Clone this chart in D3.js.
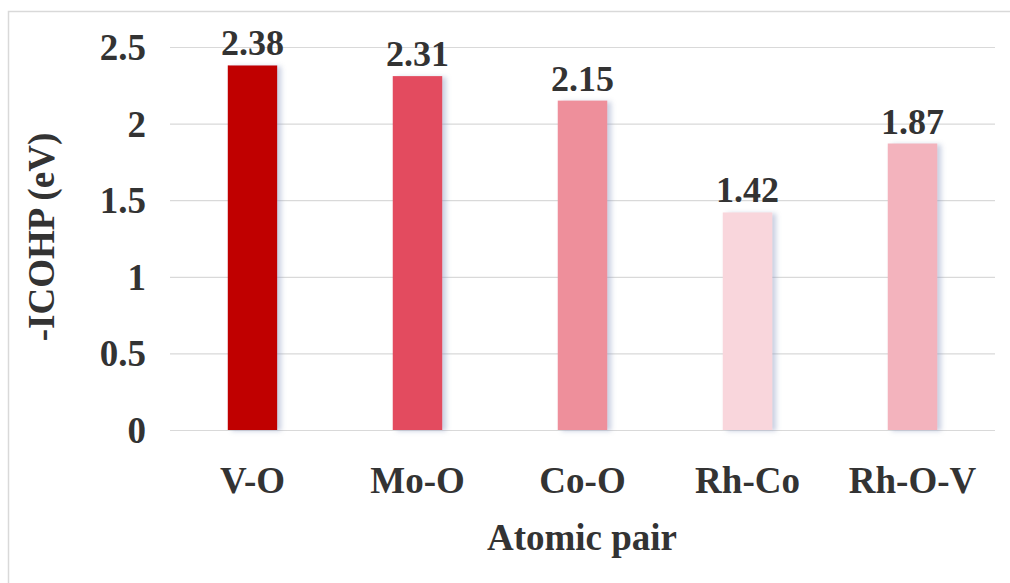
<!DOCTYPE html>
<html>
<head>
<meta charset="utf-8">
<script src="https://cdn.jsdelivr.net/npm/d3@7"></script>
<style>
  html, body { margin: 0; padding: 0; background: #fff; }
  svg { display: block; }
</style>
</head>
<body>
<script>
// Integrated COHP per atomic pair
const categories = ["V-O", "Mo-O", "Co-O", "Rh-Co", "Rh-O-V"];
const values = [2.38, 2.31, 2.15, 1.42, 1.87];
const barColors = ["#C00000", "#E34B5E", "#EE8F9B", "#F9D6DC", "#F3B3BD"];
const yTicks = [0, 0.5, 1, 1.5, 2, 2.5];
const yTickLabels = ["0", "0.5", "1", "1.5", "2", "2.5"];

const FONT = "'Liberation Serif', Tinos, 'Times New Roman', Times, 'DejaVu Serif', serif";
const W = 1010, H = 583;
const svg = d3.select("body").append("svg").attr("width", W).attr("height", H)
  .style("font-family", FONT);

// soft bluish shadow cast to the right of each bar
const defs = svg.append("defs");
const f = defs.append("filter").attr("id", "barShadow")
  .attr("x", "-20%").attr("y", "-5%").attr("width", "150%").attr("height", "110%");
f.append("feDropShadow").attr("dx", 4).attr("dy", 1).attr("stdDeviation", 2.5)
  .attr("flood-color", "#8a98c0").attr("flood-opacity", 0.45);

// outer frame
svg.append("path")
  .attr("d", `M8.5,${H} V11.5 H${W}`)
  .attr("fill", "none").attr("stroke", "#d9d9d9").attr("stroke-width", 1.5);

const x = d3.scaleBand().domain(categories).range([170, 995]).paddingInner(0.7).paddingOuter(0.35);
const y = d3.scaleLinear().domain([0, 2.5]).range([430, 47]);

function styleText(sel, size) {
  sel.style("font-family", FONT).style("font-weight", "bold")
    .style("font-size", size + "px").attr("fill", "#333");
}

// gridlines
svg.append("g").selectAll("line").data(yTicks).join("line")
  .attr("x1", 170).attr("x2", 995)
  .attr("y1", d => y(d) + 0.5).attr("y2", d => y(d) + 0.5)
  .attr("stroke", "#d9d9d9").attr("stroke-width", 1.2);

// y axis tick labels
const yAxis = d3.axisLeft(y).tickValues(yTicks)
  .tickFormat((d, i) => yTickLabels[i]).tickSize(0).tickPadding(0);
const gy = svg.append("g").attr("transform", "translate(146,0)").call(yAxis)
  .attr("font-family", null).attr("font-size", null);
gy.select(".domain").remove();
gy.selectAll("text").attr("dy", "0.34em").call(styleText, 37);

// bars
svg.append("g").selectAll("rect").data(values).join("rect")
  .attr("x", (d, i) => x(categories[i]))
  .attr("y", d => y(d))
  .attr("width", x.bandwidth())
  .attr("height", d => y(0) - y(d))
  .attr("fill", (d, i) => barColors[i])
  .attr("filter", "url(#barShadow)");

// value labels
svg.append("g").selectAll("text").data(values).join("text")
  .attr("x", (d, i) => x(categories[i]) + x.bandwidth() / 2)
  .attr("y", d => y(d) - 10)
  .attr("text-anchor", "middle")
  .text(d => d.toFixed(2))
  .call(styleText, 36);

// category axis labels
const xAxis = d3.axisBottom(x).tickSize(0).tickPadding(0);
const gx = svg.append("g").attr("transform", "translate(0,493)").call(xAxis)
  .attr("font-family", null).attr("font-size", null);
gx.select(".domain").remove();
gx.selectAll("text").attr("dy", "0").call(styleText, 37);

// axis titles
svg.append("text")
  .attr("x", 582).attr("y", 550)
  .attr("text-anchor", "middle")
  .text("Atomic pair")
  .call(styleText, 37);

svg.append("text")
  .attr("transform", "translate(54,237) rotate(-90)")
  .attr("text-anchor", "middle")
  .text("-ICOHP (eV)")
  .call(styleText, 37);
</script>
</body>
</html>
